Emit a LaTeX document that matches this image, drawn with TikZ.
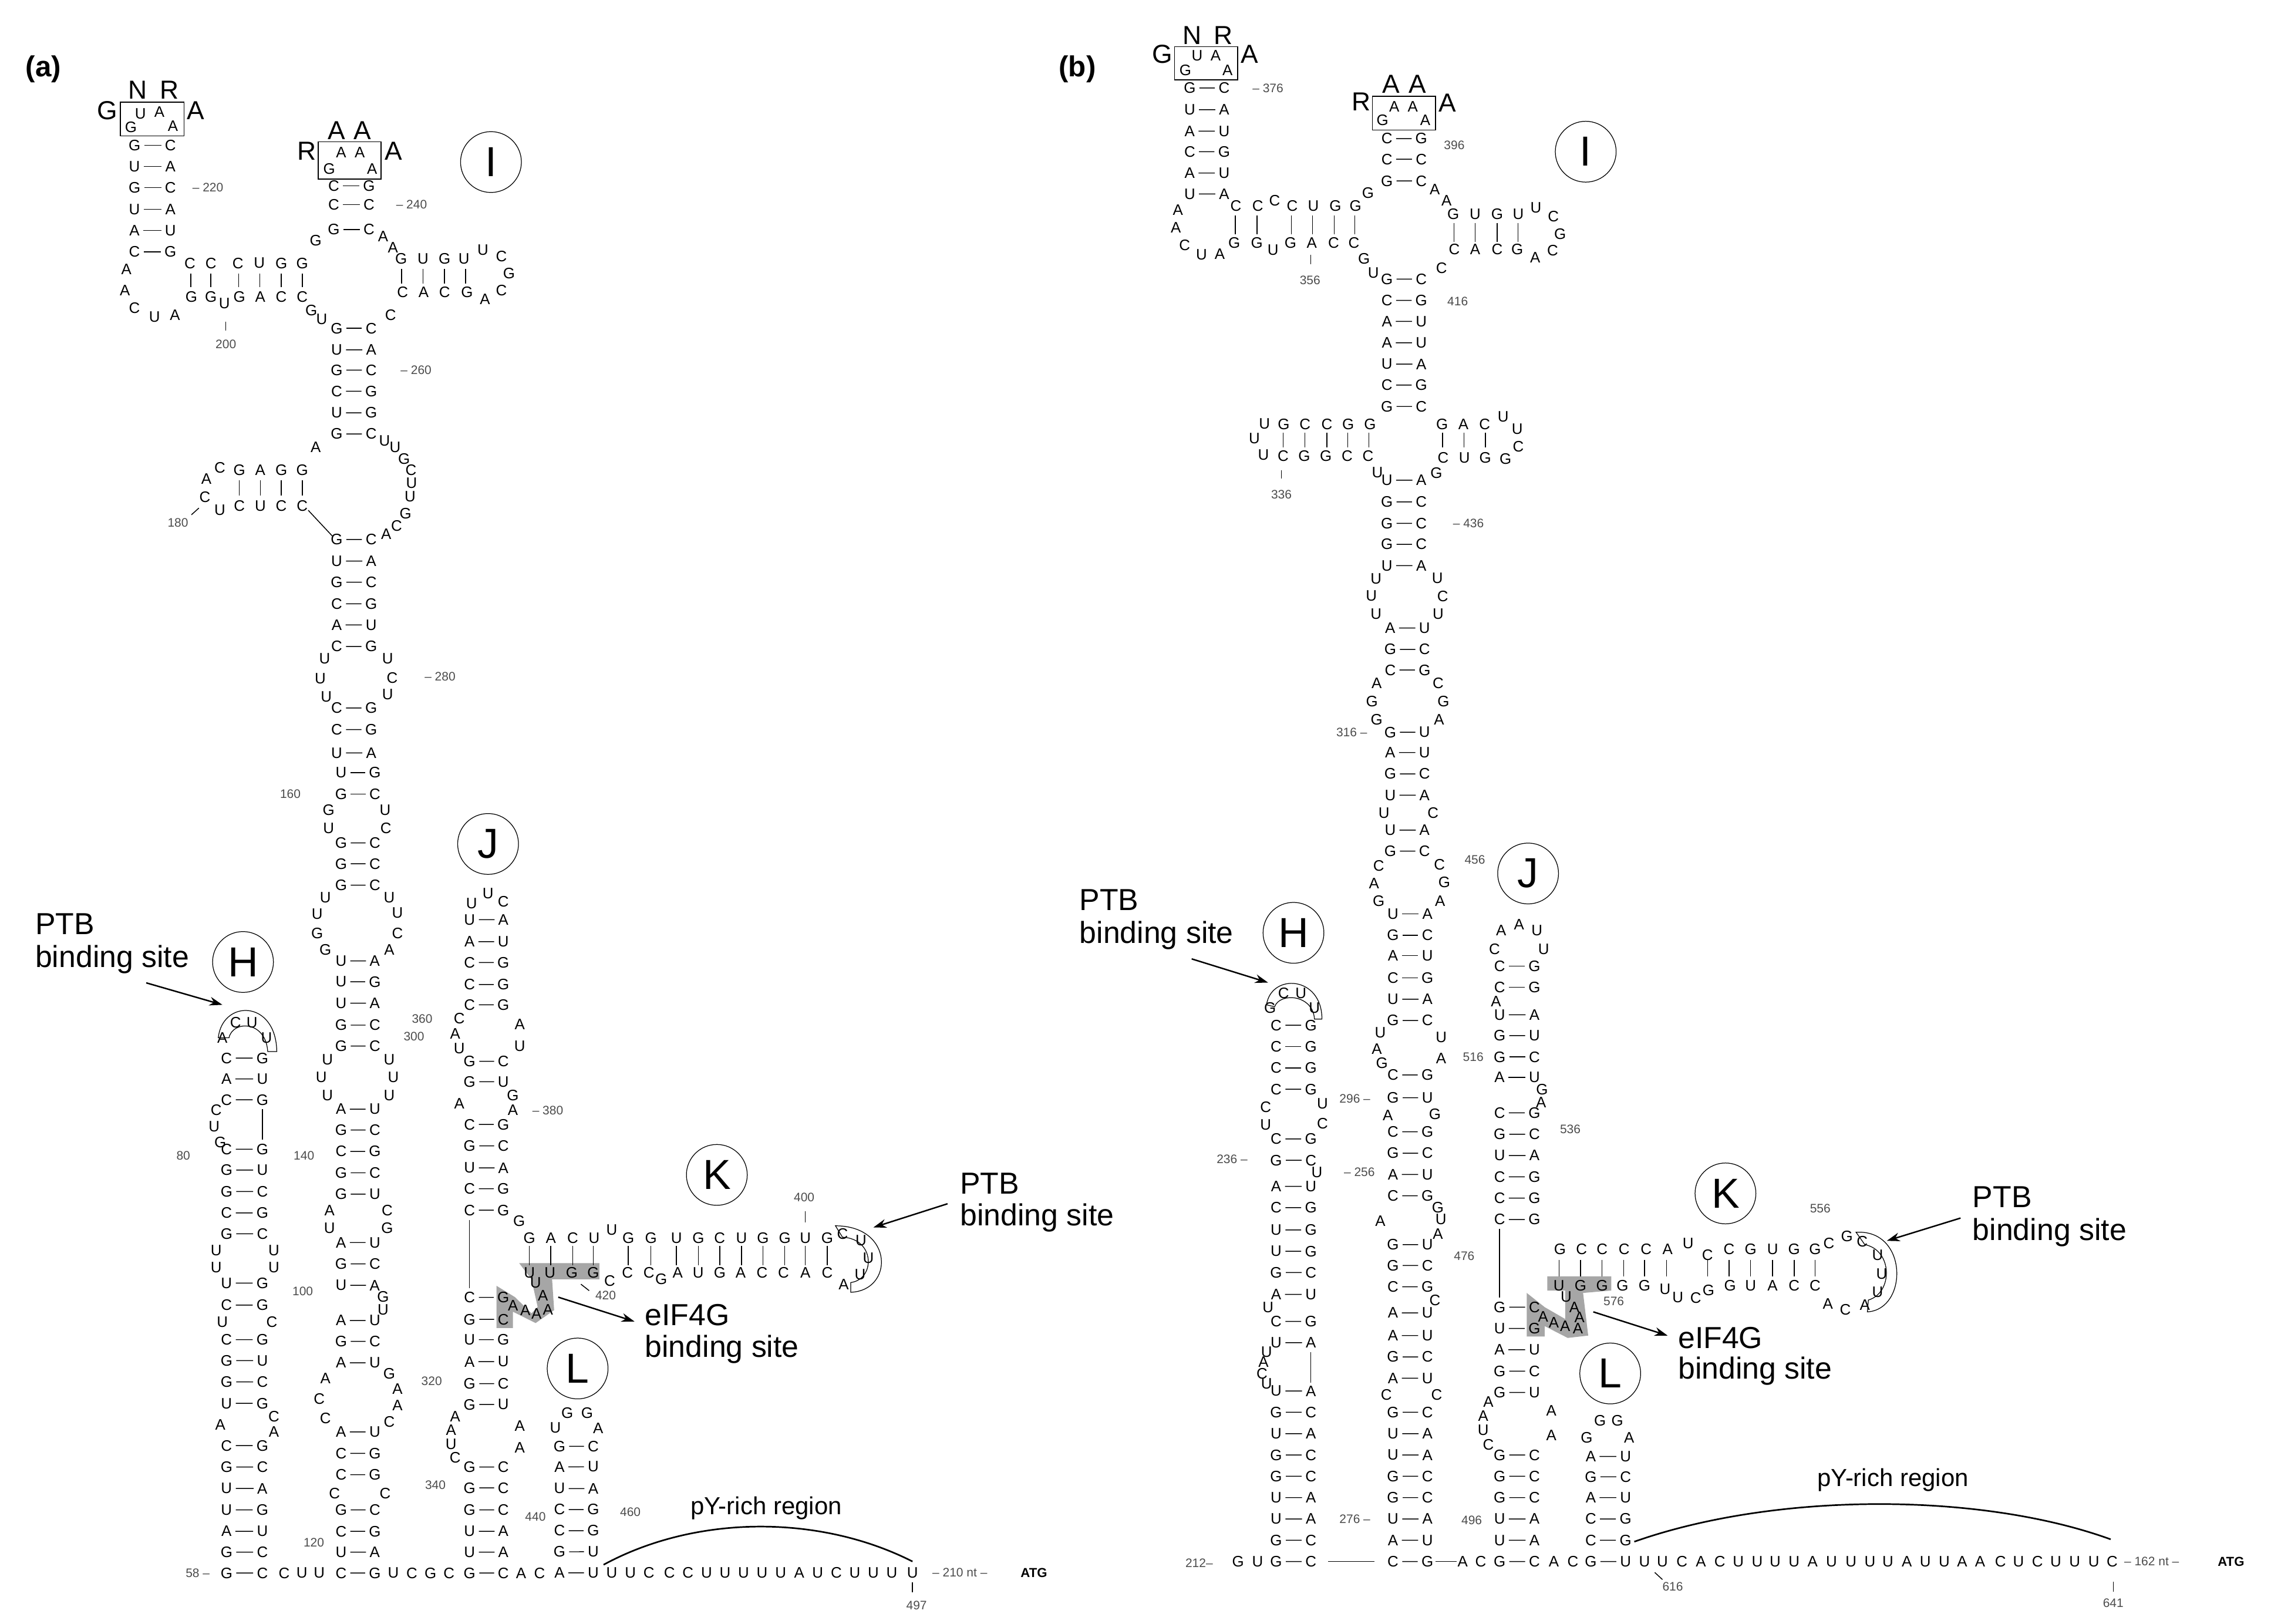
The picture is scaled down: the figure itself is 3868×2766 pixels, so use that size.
\documentclass[tikz,border=0pt]{standalone}
\usepackage{fontspec}
\setmainfont{Liberation Sans}
\usetikzlibrary{arrows.meta}
\tikzset{
 nt/.style={font=\fontsize{10.5}{10.5}\selectfont,inner sep=2.6pt,outer sep=0pt},
 bond/.style={line width=0.6pt},
 numl/.style={font=\fontsize{8.5}{8.5}\selectfont,text=black!70},
 big/.style={font=\fontsize{18}{18}\selectfont,inner sep=0pt},
 lab/.style={font=\fontsize{21}{21}\selectfont,anchor=west,inner sep=0pt},
 circ/.style={draw,line width=0.5pt,circle,minimum size=42pt,inner sep=0pt,font=\fontsize{29}{29}\selectfont},
 arr/.style={-{Stealth[length=9pt,width=6pt]},line width=1pt},
 shade/.style={fill=black!35,draw=none},
 ptb/.style={line width=0.5pt},
 pylin/.style={line width=1.1pt},
 box/.style={line width=0.6pt},
 panel/.style={font=\bfseries\fontsize{20}{20}\selectfont}
}
\newcommand\Stem[3]{\foreach \yy/\ll/\rr in {#3}{\node[nt](pa) at (#1,\yy){\ll};\node[nt](pb) at (#2,\yy){\rr};\draw[bond](pa)--(pb);}}
\newcommand\Ns[1]{\foreach \xx/\yy/\ll in {#1}{\node[nt] at (\xx,\yy){\ll};}}
\newcommand\Row[2]{\foreach \xx/\ll in {#2}{\node[nt] at (\xx,#1){\ll};}}
\newcommand\Vb[3]{\foreach \xx in {#3}{\draw[bond](\xx,#1)--(\xx,#2);}}
\begin{document}
\begin{tikzpicture}[x=0.4054pt,y=-0.4054pt]
\useasboundingbox (0,0) rectangle (3868,2766);
\node[panel] (pa) at (74,118) {(a)};
\node[panel] (pbl) at (1835,118) {(b)};
% ---------- shading (behind) ----------
\begin{scope}[shift={(800,1900)},xscale=0.7015,yscale=0.5523]
\fill[shade] (120,455)--(315,455)--(315,505)--(200,505)--(205,600)--(160,640)--(105,605)--(105,655)--(65,655)--(65,525)--(110,560)--(150,610)--(165,590)--(150,505)--cycle;
\end{scope}
\begin{scope}[shift={(2500,1500)},xscale=0.8724,yscale=0.807]
\fill[shade] (155,835)--(280,835)--(280,865)--(225,870)--(235,960)--(195,965)--(150,940)--(150,962)--(115,962)--(115,870)--(150,900)--(190,925)--(190,865)--(155,865)--cycle;
\end{scope}
% ================= PANEL A top (zoom2) =================
\begin{scope}[shift={(150,100)},xscale=0.5102,yscale=0.7653]
\draw[box] (108,97) rectangle (320,172);
\node[big] at (65,115) {G};\node[big] at (165,70) {N};\node[big] at (272,70) {R};\node[big] at (360,115) {A};
\Ns{175/122/U,238/119/A,143/152/G,283/150/A}
\Stem{155}{275}{193/G/C,240/U/A,287/G/C,335/U/A,382/A/U,430/C/G}
\node[numl] at (400,287) {– 220};
\Ns{128/468/A,123/515/A,155/555/C,222/575/U,290/570/A}
\Row{455}{340/C,410/C,500/C,572/U,645/G,715/G}
\Row{530}{345/G,410/G,505/G,575/A,645/C,715/C}
\Ns{455/545/U}
\Vb{478}{508}{343,410,503,573,645,715}
\draw[bond] (460,585)--(460,605); \node[numl] at (460,635) {200};
\Ns{760/405/G}
\draw[box] (768,185) rectangle (978,268);
\Ns{845/208/A,907/208/A,805/245/G,948/245/A}
\node[big] at (730,205) {R};\node[big] at (830,160) {A};\node[big] at (915,160) {A};\node[big] at (1020,205) {A};
\Stem{820}{938}{283/C/G,325/C/C,380/G/C}
\node[numl] at (1080,325) {– 240};
\Ns{985/395/A,1018/420/A}
\Row{445}{1045/G,1118/U,1190/G,1255/U}
\Ns{1318/425/U,1380/440/C,1405/478/G}
\Row{520}{1050/C,1120/A,1190/C,1265/G}
\Ns{1325/535/A,1380/515/C}
\Vb{468}{500}{1047,1118,1190,1260}
\Ns{1010/570/C,745/560/G,780/580/U}
\Stem{830}{945}{600/G/C,648/U/A,693/G/C,740/C/G,788/U/G,835/G/C,1070/G/C,1118/U/A,1165/G/C,1213/C/G,1260/A/U,1308/C/G,1445/C/G,1493/C/G,1545/U/A}
\node[numl] at (1095,693) {– 260};
\node[numl] at (1175,1375) {– 280};
\Ns{760/865/A}
\Row{915}{505/G,575/A,645/G,715/G}
\Ns{440/910/C,395/935/A,390/975/C,440/1005/U}
\Row{995}{505/C,575/U,645/C,715/C}
\Vb{938}{972}{505,575,645,715}
\draw[bond] (345,1015)--(370,1000); \node[numl] at (300,1033) {180};
\Ns{990/850/U,1025/865/U,1055/890/G,1078/915/C,1080/945/U,1075/975/U,1060/1012/G,1030/1040/C,995/1058/A}
\draw[bond] (735,1005)--(815,1062);
\Ns{790/1335/U,775/1380/U,795/1420/U,1000/1335/U,1015/1378/C,1000/1415/U}
\node[circ] (ca) at (1345,230) {I};
\end{scope}
% ================= PANEL A bottom-left (zoom1) =================
\begin{scope}[shift={(0,1300)},xscale=0.7015,yscale=0.935]
\Stem{828}{910}{17/U/G,56/G/C,145/G/C,183/G/C,222/G/C,360/U/A,398/U/G,437/U/A,477/G/C,515/G/C,630/A/U,668/G/C,707/C/G,746/G/C,785/G/U,873/A/U,912/G/C,951/U/A,1015/A/U,1053/G/C,1092/A/U,1218/A/U,1257/C/G,1296/C/G,1360/G/C,1399/C/G,1437/U/A,1475/C/G}
\Ns{798/85/G,935/85/U,798/118/U,937/118/C,790/245/U,945/245/U,770/275/U,965/272/U,770/310/G,965/310/C,790/340/G,945/340/A,795/540/U,945/540/U,780/572/U,955/572/U,795/605/U,945/605/U,800/815/A,940/815/C,800/847/U,940/847/G,930/972/G,930/995/U,945/1112/G,790/1120/A,965/1140/A,775/1158/C,965/1170/A,790/1193/C,945/1200/C,812/1330/C,935/1330/C}
\node[numl] at (705,56) {160};\node[numl] at (1005,498) {300};\node[numl] at (738,715) {140};
\node[numl] at (1048,1125) {320};\node[numl] at (762,1420) {120};\node[numl] at (445,715) {80};
\node[numl] at (735,962) {100};\node[numl] at (1025,465) {360};\node[numl] at (1330,632) {– 380};
\node[numl] at (1057,1315) {340};\node[numl] at (1300,1373) {440};\node[numl] at (480,1475) {58 –};
\Stem{550}{637}{537/C/G,575/A/U,613/C/G,703/C/G,741/G/U,780/G/C,819/C/G,857/G/C,947/U/G,987/C/G,1050/C/G,1088/G/U,1127/G/C,1166/U/G,1243/C/G,1282/G/C,1321/U/A,1360/U/G,1399/A/U,1437/G/C,1475/G/C}
\Ns{540/500/A,572/472/C,612/472/U,647/500/U,525/632/C,520/662/U,535/690/G,525/887/U,525/918/U,665/887/U,665/918/U,540/1018/U,660/1018/C,535/1205/A,665/1190/C,665/1218/A}
\draw[bond] (637,630)--(637,686);
\draw[ptb] (530,500) .. controls (540,430) and (670,430) .. (672,525) -- (650,525) .. controls (645,468) and (565,468) .. (556,500) -- cycle;
\Stem{1140}{1222}{285/U/A,325/A/U,363/C/G,403/C/G,440/C/G,543/G/C,580/G/U,658/C/G,697/G/C,737/U/A,775/C/G,814/C/G,973/C/G,1013/G/C,1050/U/G,1090/A/U,1130/G/C,1168/G/U,1282/G/C,1320/G/C,1360/G/C,1399/U/A,1437/U/A,1475/G/C}
\Ns{1145/255/U,1185/237/U,1222/252/C,1115/465/C,1105/493/A,1115/520/U,1262/475/A,1262/515/U,1115/620/A,1245/605/G,1245/632/A,1105/1190/A,1095/1215/A,1095/1240/U,1105/1265/C,1262/1207/A,1262/1247/A}
\draw[bond] (1140,832)--(1140,956);
\Row{1475}{690/C,733/U,775/U,955/U,1000/C,1045/G,1090/C,1265/A,1310/C}
\node[lab] (p1) at (85,293) {PTB};
\node[lab] (p1b) at (85,357) {binding site};
\coordinate (a1s) at (355,400); \coordinate (a1e) at (540,440);
\draw[arr] (a1s)--(a1e);
\node[circ] (ch) at (590,362) {H};
\node[circ] (cj) at (1185,147) {J};
\end{scope}
% ================= PANEL A right (zoom3) =================
\begin{scope}[shift={(800,1900)},xscale=0.7015,yscale=0.5523]
\Row{378}{145/G,197/A,250/C,302/U,385/G,440/G,502/U,555/G,607/C,660/U,712/G,765/G,815/U,868/G}
\Ns{345/352/U}
\Row{485}{145/U,195/U,248/G,300/G,383/C,435/C,505/A,555/U,607/G,658/A,710/C,762/C,815/A,868/C}
\Ns{340/510/C,465/505/G}
\Vb{402}{462}{145,197,250,300,385,440,502,555,607,660,712,765,815,868}
\Ns{905/365/C,950/385/U,968/440/U,948/490/U,908/520/A,120/325/G}
\Ns{160/515/U,178/555/A,190/598/A,162/612/A,135/600/A,105/585/A}
\draw[bond] (270,520)--(290,540); \node[numl] at (330,555) {420};
\draw[bond] (815,295)--(815,330); \node[numl] at (812,252) {400};
\draw[ptb] (888,340) .. controls (1030,340) and (1030,540) .. (925,545) -- (925,515) .. controls (985,505) and (985,380) .. (905,375) -- cycle;
\Stem{218}{300}{1020/G/C,1083/A/U,1150/U/A,1215/C/G,1280/C/G,1345/G/U,1410/A/U}
\Ns{237/918/G,285/918/G,208/962/U,312/965/A}
\node[numl] at (390,1222) {460};
\Row{1410}{345/U,390/U,435/C,485/C,530/C,575/U,620/U,665/U,710/U,755/U,800/A,845/U,890/C,935/U,980/U,1025/U,1075/U}
\node[numl] at (1190,1410) {– 210 nt –};
\node[font=\bfseries\fontsize{9}{9}\selectfont] at (1370,1410) {ATG};
\draw[bond] (1075,1440)--(1075,1470); \node[numl] at (1085,1510) {497};
\node[font=\fontsize{17}{17}\selectfont] (pya) at (720,1210) {pY-rich region};
\coordinate (pys) at (325,1385); \coordinate (pye) at (1075,1375);
\draw[pylin] (pys) .. controls (550,1230) and (850,1230) .. (pye);
\node[circ] (ck) at (600,183) {K};
\node[circ] (cl) at (262,780) {L};
\node[lab] (p2) at (1190,210) {PTB};
\node[lab] (p2b) at (1190,315) {binding site};
\coordinate (a2s) at (1160,272); \coordinate (a2e) at (980,345);
\draw[arr] (a2s)--(a2e);
\node[lab] (e1) at (425,615) {eIF4G};
\node[lab] (e1b) at (425,720) {binding site};
\coordinate (a3s) at (215,560); \coordinate (a3e) at (400,635);
\draw[arr] (a3s)--(a3e);
\end{scope}
% ================= PANEL B top (zoom4) =================
\begin{scope}[shift={(1950,0)},xscale=0.574,yscale=0.638]
\draw[box] (88,125) rectangle (275,213);
\node[big] at (52,145) {G};\node[big] at (140,95) {N};\node[big] at (232,95) {R};\node[big] at (310,145) {A};
\Ns{155/148/U,210/148/A,120/188/G,245/188/A}
\Stem{133}{235}{235/G/C,293/U/A,350/A/U,405/C/G,462/A/U,518/U/A}
\node[numl] at (365,235) {– 376};
\Ns{98/560/A,92/608/A,118/655/C,168/680/U,222/678/A}
\Row{550}{270/C,335/C,437/C,500/U,565/G,625/G}
\Ns{385/535/C}
\Row{648}{265/G,332/G,432/G,495/A,560/C,620/C}
\Ns{380/668/U}
\Vb{575}{625}{268,333,435,497,562,623}
\draw[bond] (492,680)--(492,705); \node[numl] at (490,748) {356};
\Ns{662/515/G}
\draw[box] (675,257) rectangle (862,347);
\Ns{740/285/A,795/285/A,705/320/G,832/320/A}
\node[big] at (642,272) {R};\node[big] at (730,225) {A};\node[big] at (808,225) {A};\node[big] at (897,275) {A};
\Stem{718}{820}{370/C/G,425/C/C,483/G/C,745/G/C,802/C/G,858/A/U,915/A/U,972/U/A,1028/C/G,1085/G/C,1282/U/A,1340/G/C,1397/G/C,1453/G/C,1510/U/A}
\node[numl] at (918,388) {396};\node[numl] at (928,805) {416};\node[numl] at (960,1397) {– 436};
\Ns{860/505/A,895/535/A}
\Row{572}{915/G,980/U,1045/G,1108/U}
\Ns{1160/555/U,1212/578/C,1232/625/G}
\Row{665}{918/C,980/A,1045/C,1105/G}
\Ns{1158/688/A,1210/668/C}
\Vb{595}{645}{917,980,1045,1107}
\Ns{880/715/C,650/690/G,678/728/U}
\Row{1132}{355/U,412/G,475/C,540/C,603/G,668/G}
\Ns{325/1170/U,352/1215/U}
\Row{1218}{410/C,473/G,537/G,600/C,662/C}
\Vb{1155}{1195}{410,475,540,602,665}
\draw[bond] (405,1255)--(405,1278); \node[numl] at (405,1320) {336};
\Row{1132}{882/G,945/A,1008/C}
\Ns{1063/1112/U,1105/1145/U,1108/1192/C}
\Row{1222}{885/C,948/U,1010/G}
\Ns{1070/1225/G}
\Vb{1155}{1195}{883,947,1010}
\Ns{690/1262/U,865/1262/G}
\node[circ] (cib) at (1308,405) {I};
\end{scope}
% ================= PANEL B middle (zoom5) =================
\begin{scope}[shift={(2050,900)},xscale=0.4464,yscale=0.6059]
\Stem{712}{843}{280/A/U,340/G/C,398/C/G,573/G/U,630/A/U,690/G/C,750/U/A,848/U/A,907/G/C}
\Ns{658/142/U,640/190/U,658/240/U,892/140/U,912/190/C,895/240/U,660/435/A,642/487/G,660/537/G,895/435/C,915/487/G,898/537/A,688/800/U,875/800/C,668/948/C,650/998/A,668/1048/G,900/945/C,918/995/G,902/1048/A}
\node[numl] at (565,573) {316 –};
\node[numl] at (1035,932) {456};
\node[circ] (cjb) at (1238,970) {J};
\end{scope}
% ================= PANEL B bottom-left (zoom6) =================
\begin{scope}[shift={(1800,1500)},xscale=0.5102,yscale=0.807]
\Stem{1122}{1237}{70/U/A,115/G/C,158/A/U,205/C/G,250/U/A,295/G/C,410/C/G,458/G/U,530/C/G,575/G/C,620/A/U,665/C/G,768/G/U,812/G/C,857/C/G,912/A/U,960/A/U,1005/G/C,1050/A/U,1122/G/C,1167/U/A,1212/U/A,1257/G/C,1302/G/C,1347/U/A,1392/A/U,1437/C/G}
\Ns{1080/320/U,1068/355/A,1085/385/G,1283/330/U,1283/375/A,1105/495/A,1262/493/G,1272/690/G,1282/715/U,1272/745/A,1080/718/A,1262/885/C,1100/1085/C,1268/1085/C,1355/1437/A,1415/1437/C}
\node[numl] at (995,460) {296 –};\node[numl] at (1360,792) {476};\node[numl] at (995,1347) {276 –};
\node[numl] at (1390,372) {516};\node[numl] at (1385,1350) {496};
\Stem{732}{848}{305/C/G,350/C/G,395/C/G,440/C/G,545/C/G,590/G/C,645/A/U,690/C/G,737/U/G,782/U/G,827/G/C,873/A/U,930/C/G,975/U/A,1077/U/A,1122/G/C,1167/U/A,1212/G/C,1257/G/C,1302/U/A,1347/U/A,1392/G/C,1437/G/C}
\Ns{712/268/G,757/238/C,815/238/U,860/268/U,697/478/C,697/515/U,887/470/U,887/512/C,868/615/U,705/900/U,700/995/U,690/1015/A,685/1040/C,700/1062/U,605/1437/G,670/1437/U}
\node[numl] at (585,588) {236 –};\node[numl] at (1010,615) {– 256};\node[numl] at (475,1440) {212–};
\draw[bond] (848,995)--(848,1060);
\draw[bond] (905,1437)--(1060,1437);
\draw[bond] (1265,1437)--(1335,1437);
\draw[ptb] (700,262) .. controls (715,195) and (885,200) .. (885,292) -- (860,292) .. controls (855,240) and (745,235) .. (727,266) -- cycle;
\node[lab] (p3) at (75,40) {PTB};
\node[lab] (p3b) at (75,115) {binding site};
\coordinate (a4s) at (450,165); \coordinate (a4e) at (705,215);
\draw[arr] (a4s)--(a4e);
\node[circ] (chb) at (790,110) {H};
\end{scope}
% ================= PANEL B right (zoom7) =================
\begin{scope}[shift={(2500,1500)},xscale=0.8724,yscale=0.807]
\Stem{62}{130}{180/C/G,225/C/G,283/U/A,327/G/U,372/G/C,415/A/U,490/C/G,535/G/C,580/U/A,625/C/G,670/C/G,715/C/G,900/G/C,945/U/G,990/A/U,1035/G/C,1080/G/U,1212/G/C,1257/G/C,1302/G/C,1347/U/A,1392/U/A,1437/G/C}
\Ns{65/105/A,100/92/A,135/105/U,52/145/C,148/145/U,55/255/A,145/440/G,143/468/A,40/1100/A,30/1130/A,30/1160/U,40/1190/C,163/1118/A,163/1170/A}
\draw[bond] (62,735)--(62,880);
\node[numl] at (200,525) {536};
\Row{778}{180/G,222/C,262/C,305/C,348/C,390/A,510/C,552/G,595/U,637/G,678/G}
\Ns{430/765/U,468/790/C,705/765/C,740/750/G}
\Row{855}{178/U,220/G,262/G,302/G,345/G,512/G,552/U,595/A,637/C,678/C}
\Ns{385/862/U,410/880/U,445/880/C,470/865/G}
\Vb{800}{835}{178,220,262,304,345,388,468,510,552,595,637,678}
\Ns{770/762/C,800/790/U,808/830/U,800/868/U,775/895/A,737/905/C,703/893/A}
\Ns{192/878/U,208/900/A,218/922/A,215/945/A,190/940/A,168/933/A,147/920/A}
\node[numl] at (285,887) {576};\node[numl] at (688,692) {556};
\draw[ptb] (758,742) .. controls (860,735) and (860,905) .. (780,910) -- (782,885) .. controls (830,870) and (830,780) .. (775,768) -- cycle;
\Stem{240}{308}{1215/A/U,1258/G/C,1302/A/U,1347/C/G,1392/C/G,1437/G/U}
\Ns{258/1140/G,292/1140/G,232/1175/G,315/1175/A}
\Row{1437}{168/A,205/C,345/U,380/U,418/C,455/A,492/C,528/U,565/U,600/U,637/U,673/A,710/U,748/U,785/U,820/U,857/A,893/U,930/U,965/A,1000/A,1040/C,1075/U,1112/C,1148/U,1185/U,1222/U,1258/C}
\node[numl] at (1335,1437) {– 162 nt –};
\node[font=\bfseries\fontsize{9}{9}\selectfont] at (1490,1437) {ATG};
\draw[bond] (365,1460)--(380,1475); \node[numl] at (400,1490) {616};
\draw[bond] (1260,1480)--(1260,1500); \node[numl] at (1260,1525) {641};
\node[font=\fontsize{17}{17}\selectfont] (pyb) at (830,1265) {pY-rich region};
\coordinate (pbs) at (325,1395); \coordinate (pbe) at (1255,1390);
\draw[pylin] (pbs) .. controls (600,1290) and (1000,1290) .. (pbe);
\node[circ] (ckb) at (503,660) {K};
\node[circ] (clb) at (278,1040) {L};
\node[lab] (p4) at (985,668) {PTB};
\node[lab] (p4b) at (985,742) {binding site};
\coordinate (a5s) at (962,712); \coordinate (a5e) at (818,760);
\draw[arr] (a5s)--(a5e);
\node[lab] (e2) at (410,965) {eIF4G};
\node[lab] (e2b) at (410,1035) {binding site};
\coordinate (a6s) at (245,910); \coordinate (a6e) at (390,960);
\draw[arr] (a6s)--(a6e);
\end{scope}
\end{tikzpicture}
\end{document}
